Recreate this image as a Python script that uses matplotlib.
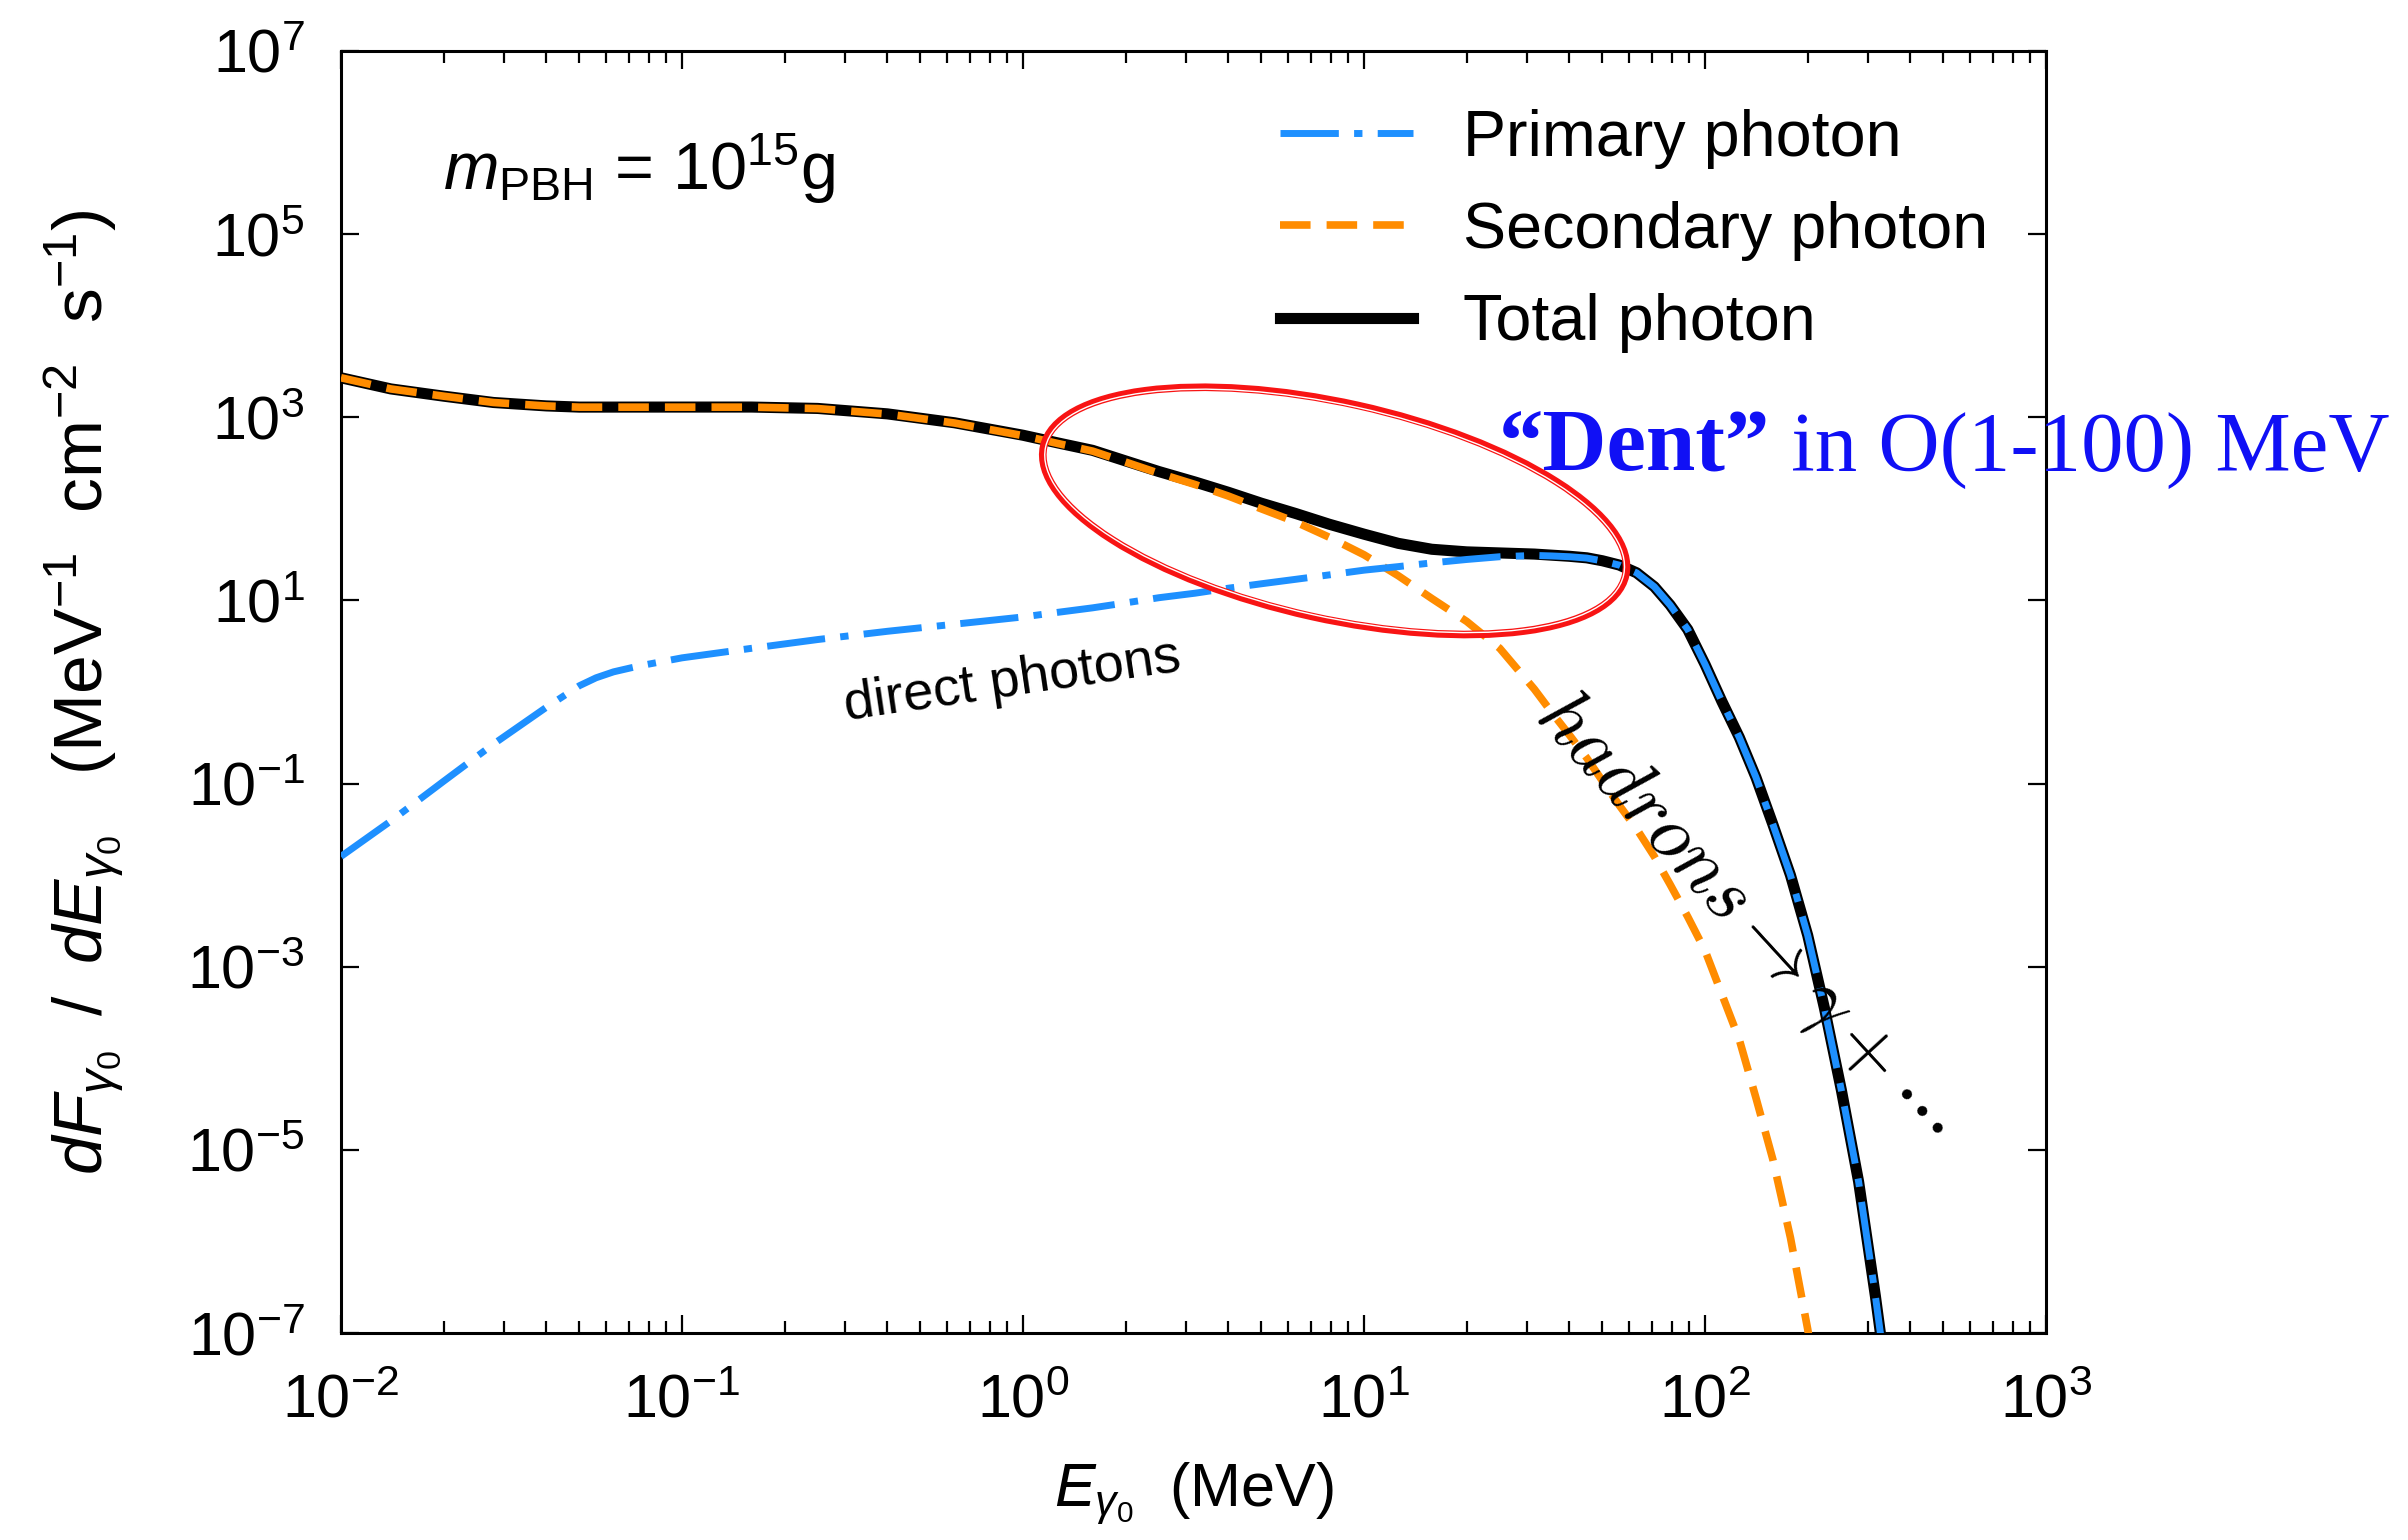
import numpy as np
import matplotlib
matplotlib.use("Agg")
import matplotlib.pyplot as plt
from matplotlib.patches import Ellipse
from matplotlib.transforms import ScaledTranslation
from matplotlib.ticker import NullLocator, LogLocator

plt.rcParams['font.family'] = 'Liberation Sans'
plt.rcParams['mathtext.fontset'] = 'custom'
plt.rcParams['mathtext.rm'] = 'Liberation Sans'
plt.rcParams['mathtext.it'] = 'Liberation Sans:italic'
plt.rcParams['mathtext.bf'] = 'Liberation Sans:bold'

# photon energy grid (MeV)
energy = np.array([0.01, 0.014, 0.02, 0.028, 0.04, 0.05, 0.056, 0.063, 0.071, 0.079,
                   0.1, 0.16, 0.25, 0.4, 0.63, 1.0, 1.26, 1.6, 2.0, 2.5,
                   3.2, 4.0, 5.0, 6.3, 7.9, 10, 12.6, 15.8, 20, 25,
                   31.6, 35.5, 40, 45, 50, 56, 63, 71, 79, 89,
                   100, 112, 126, 141, 158, 178, 200, 224, 251, 282,
                   316, 355])

# primary (direct Hawking) photon flux
primary = np.array([0.016, 0.039, 0.106, 0.27, 0.68, 1.17, 1.43, 1.66, 1.84, 2.0,
                    2.36, 3.0, 3.74, 4.6, 5.5, 6.6, 7.4, 8.3, 9.4, 10.7,
                    12.0, 13.6, 15.2, 17, 19, 21.4, 23.4, 25.7, 28, 30,
                    31, 30.6, 30, 29, 27, 24.3, 20, 14.1, 8.9, 4.8,
                    2.0, 0.79, 0.32, 0.117, 0.036, 0.010, 2.2e-3, 3.5e-4, 4.5e-5, 4.5e-6,
                    2.5e-7, 1e-8])

# secondary photons from hadron decays
secondary = np.array([2700, 2040, 1700, 1450, 1330, 1290, 1290, 1290, 1290, 1290,
                      1290, 1290, 1245, 1085, 865, 630, 519, 427, 324, 245,
                      184, 138, 100, 72, 49, 31.5, 18.6, 10.5, 5.9, 3.0,
                      1.07, 0.6, 0.34, 0.19, 0.107, 0.058, 0.032, 0.016, 7.9e-3, 3.5e-3,
                      1.5e-3, 5e-4, 1.6e-4, 3.7e-5, 7.9e-6, 1.1e-6, 1.1e-7, 8e-9, 5e-10, 2e-11,
                      5e-13, 1e-14])

total = primary + secondary

blue = '#1e90ff'
orange = '#ff8c00'

fig = plt.figure(figsize=(24.08, 15.40), dpi=100)
ax = fig.add_axes([0.1416, 0.1344, 0.7081, 0.8325])

l_tot, = ax.plot(energy, total, color='black', lw=8, label='Total photon', zorder=2)
l_sec, = ax.plot(energy, secondary, color=orange, lw=5.5, ls=(0, (4, 2.1)),
                 label='Secondary photon', zorder=3)
l_pri, = ax.plot(energy, primary, color=blue, lw=5, ls=(0, (8.4, 2.2, 1.2, 2.2)),
                 label='Primary photon', zorder=4)

ax.set_xscale('log')
ax.set_yscale('log')
ax.set_xlim(1e-2, 1e3)
ax.set_ylim(1e-7, 1e7)
ax.set_yticks([10.0 ** k for k in range(-7, 8, 2)])
ax.yaxis.set_minor_locator(NullLocator())
ax.xaxis.set_minor_locator(LogLocator(base=10, subs=np.arange(2, 10)))
ax.tick_params(which='both', direction='in', top=True, right=True, width=1.6)
ax.tick_params(which='major', length=13, labelsize=44)
ax.tick_params(which='minor', length=8.5)
ax.tick_params(axis='x', pad=29)
ax.tick_params(axis='y', pad=26)
for s in ax.spines.values():
    s.set_linewidth(2.2)

ax.set_xlabel(r'$E_{\gamma_0}$  (MeV)', fontsize=44, labelpad=22)
ax.set_ylabel(r'$dF_{\gamma_0}\;\;/\;\;dE_{\gamma_0}$   (MeV$^{-1}$  cm$^{-2}$  s$^{-1}$)',
              fontsize=50, labelpad=44)

ax.legend([l_pri, l_sec, l_tot], ['Primary photon', 'Secondary photon', 'Total photon'],
          loc='upper left', bbox_to_anchor=(0.551, 0.955), frameon=False, fontsize=46.5,
          handlelength=2.05, handletextpad=0.78, labelspacing=0.5,
          borderaxespad=0, borderpad=0)

ax.text(0.06, 0.8916, r'$m_{\rm PBH}$ = 10$^{15}$g', transform=ax.transAxes,
        fontsize=48, va='baseline')
ax.text(0.93, 1.3, 'direct photons', rotation=8.4, fontsize=39,
        ha='center', va='center', rotation_mode='anchor')
ax.text(130, 3.4e-3, r'$hadrons \rightarrow \gamma + \cdots$', rotation=-47.5,
        math_fontfamily='cm', fontsize=56, ha='center', va='center',
        rotation_mode='anchor', zorder=7)

# ring around the dent, sized in inches around a data point
ring = fig.dpi_scale_trans + ScaledTranslation(8.2, 95, ax.transData)
ax.add_patch(Ellipse((0, 0), 5.96, 2.16, angle=-12.5, transform=ring,
                     fill=False, ec='#f81414', lw=5.5, zorder=5))
ax.add_patch(Ellipse((0, 0), 5.92, 2.12, angle=-12.5, transform=ring,
                     fill=False, ec='white', lw=1.0, zorder=6))

dent_blue = '#1010f5'
t1 = ax.text(0.679, 0.673, '\u201cDent\u201d', transform=ax.transAxes, fontsize=64,
             fontweight='bold', family='Liberation Serif', color=dent_blue,
             va='baseline')
ax.annotate(' in O(1-100) MeV', xy=(1, 0), xycoords=t1, fontsize=61,
            family='Liberation Serif', color=dent_blue, va='bottom', ha='left')

fig.savefig('out.png', dpi=100)
